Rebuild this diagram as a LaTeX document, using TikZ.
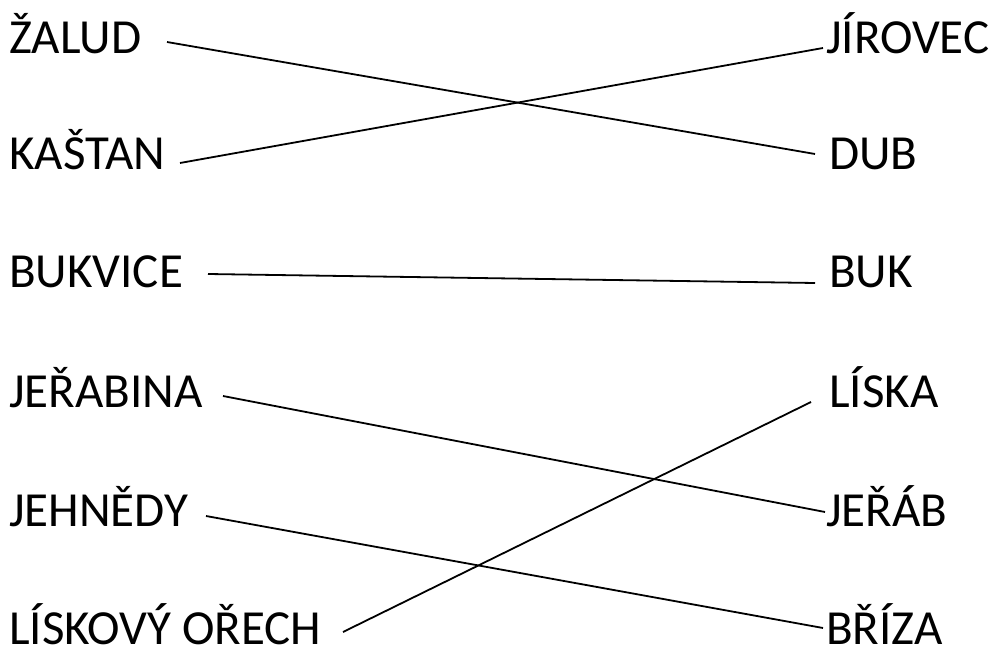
\documentclass[tikz,border=0pt]{standalone}
\usepackage{fontspec}
\setmainfont{Carlito}
\begin{document}
\begin{tikzpicture}[x=1bp,y=-1bp,
  lbl/.style={anchor=base west,inner sep=0pt,font=\fontsize{49bp}{54bp}\selectfont},
  link/.style={line width=1.8bp,black}]
\useasboundingbox (0,0) rectangle (995,648);
% left labels
\node[lbl] (zalud) at (9,54) {ŽALUD};
\node[lbl] (kastan) at (9,170) {KAŠTAN};
\node[lbl] (bukvice) at (9,288) {BUKVICE};
\node[lbl] (jerabina) at (9,407) {JEŘABINA};
\node[lbl] (jehnedy) at (9,526) {JEHNĚDY};
\node[lbl] (liskovy) at (9,644) {LÍSKOVÝ OŘECH};
% right labels
\node[lbl] (jirovec) at (826,54) {JÍROVEC};
\node[lbl] (dub) at (829,170) {DUB};
\node[lbl] (buk) at (829,288) {BUK};
\node[lbl] (liska) at (829,407) {LÍSKA};
\node[lbl] (jerab) at (826,526) {JEŘÁB};
\node[lbl] (briza) at (826,644) {BŘÍZA};
% connector ends
\coordinate (a1) at (167,42);   \coordinate (b2) at (815,154);
\coordinate (a2) at (180,163);  \coordinate (b1) at (823,48);
\coordinate (a3) at (208,274);  \coordinate (b3) at (815,283);
\coordinate (a4) at (223,396);  \coordinate (b5) at (825,512);
\coordinate (a5) at (206,516);  \coordinate (b6) at (823,628);
\coordinate (a6) at (343,632);  \coordinate (b4) at (811,402);
\draw[link] (a1) -- (b2);
\draw[link] (a2) -- (b1);
\draw[link] (a3) -- (b3);
\draw[link] (a4) -- (b5);
\draw[link] (a5) -- (b6);
\draw[link] (a6) -- (b4);
\end{tikzpicture}
\end{document}
